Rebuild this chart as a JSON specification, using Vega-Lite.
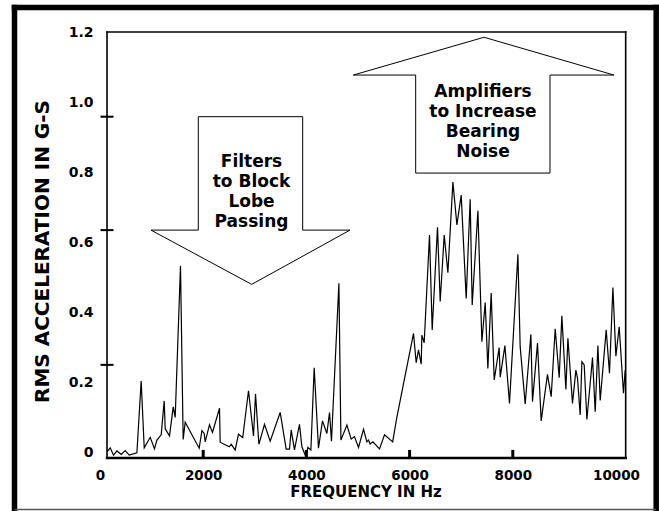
{
  "$schema": "https://vega.github.io/schema/vega-lite/v6.json",
  "width": 526,
  "height": 426,
  "autosize": {"type": "none"},
  "padding": {"left": 100, "top": 32, "right": 33, "bottom": 53},
  "background": "white",
  "config": {
    "view": {"stroke": null},
    "font": "DejaVu Sans"
  },
  "datasets": {
    "signal": [
      {"x": 140, "y": 0.001}, {"x": 198, "y": 0.012}, {"x": 262, "y": -0.009}, {"x": 328, "y": 0.003},
      {"x": 411, "y": -0.007}, {"x": 488, "y": 0.004}, {"x": 566, "y": -0.009}, {"x": 715, "y": -0.002},
      {"x": 798, "y": 0.203}, {"x": 857, "y": 0.012}, {"x": 973, "y": 0.042}, {"x": 1056, "y": 0.009},
      {"x": 1103, "y": 0.034}, {"x": 1186, "y": 0.049}, {"x": 1244, "y": 0.146}, {"x": 1264, "y": 0.066},
      {"x": 1347, "y": 0.046}, {"x": 1419, "y": 0.129}, {"x": 1457, "y": 0.099}, {"x": 1560, "y": 0.532},
      {"x": 1612, "y": 0.036}, {"x": 1651, "y": 0.085}, {"x": 1922, "y": 0.011}, {"x": 1975, "y": 0.061},
      {"x": 2019, "y": 0.053}, {"x": 2039, "y": 0.029}, {"x": 2122, "y": 0.078}, {"x": 2180, "y": 0.056},
      {"x": 2316, "y": 0.125}, {"x": 2329, "y": 0.028}, {"x": 2504, "y": 0.015}, {"x": 2543, "y": 0.022},
      {"x": 2620, "y": 0.006}, {"x": 2684, "y": 0.051}, {"x": 2766, "y": 0.041}, {"x": 2878, "y": 0.175},
      {"x": 2975, "y": 0.046}, {"x": 3014, "y": 0.166}, {"x": 3079, "y": 0.022}, {"x": 3188, "y": 0.079},
      {"x": 3298, "y": 0.031}, {"x": 3492, "y": 0.113}, {"x": 3608, "y": 0.008}, {"x": 3672, "y": 0.008},
      {"x": 3705, "y": 0.063}, {"x": 3769, "y": 0.006}, {"x": 3866, "y": 0.079}, {"x": 3913, "y": 0.015},
      {"x": 3977, "y": -0.009}, {"x": 3996, "y": -0.013}, {"x": 4029, "y": 0.013}, {"x": 4087, "y": 0.006},
      {"x": 4151, "y": 0.241}, {"x": 4234, "y": 0.011}, {"x": 4312, "y": 0.089}, {"x": 4397, "y": 0.053},
      {"x": 4448, "y": 0.113}, {"x": 4486, "y": 0.031}, {"x": 4630, "y": 0.482}, {"x": 4669, "y": 0.034},
      {"x": 4785, "y": 0.077}, {"x": 4868, "y": 0.037}, {"x": 4932, "y": 0.044}, {"x": 5010, "y": 0.013},
      {"x": 5107, "y": 0.065}, {"x": 5172, "y": 0.029}, {"x": 5203, "y": 0.034}, {"x": 5236, "y": 0.023},
      {"x": 5289, "y": 0.029}, {"x": 5417, "y": 0.009}, {"x": 5514, "y": 0.049}, {"x": 5672, "y": 0.029},
      {"x": 5750, "y": 0.097}, {"x": 6076, "y": 0.339}, {"x": 6128, "y": 0.255}, {"x": 6172, "y": 0.292},
      {"x": 6225, "y": 0.251}, {"x": 6238, "y": 0.334}, {"x": 6283, "y": 0.312}, {"x": 6386, "y": 0.62},
      {"x": 6438, "y": 0.349}, {"x": 6541, "y": 0.642}, {"x": 6593, "y": 0.43}, {"x": 6671, "y": 0.62},
      {"x": 6742, "y": 0.512}, {"x": 6839, "y": 0.771}, {"x": 6917, "y": 0.649}, {"x": 7000, "y": 0.734},
      {"x": 7097, "y": 0.439}, {"x": 7174, "y": 0.722}, {"x": 7213, "y": 0.42}, {"x": 7324, "y": 0.689},
      {"x": 7401, "y": 0.315}, {"x": 7465, "y": 0.427}, {"x": 7517, "y": 0.239}, {"x": 7581, "y": 0.454},
      {"x": 7640, "y": 0.206}, {"x": 7736, "y": 0.298}, {"x": 7756, "y": 0.214}, {"x": 7847, "y": 0.304},
      {"x": 7936, "y": 0.139}, {"x": 8099, "y": 0.565}, {"x": 8143, "y": 0.301}, {"x": 8240, "y": 0.137},
      {"x": 8351, "y": 0.336}, {"x": 8382, "y": 0.144}, {"x": 8479, "y": 0.311}, {"x": 8550, "y": 0.089},
      {"x": 8672, "y": 0.222}, {"x": 8744, "y": 0.158}, {"x": 8822, "y": 0.352}, {"x": 8899, "y": 0.212},
      {"x": 8951, "y": 0.389}, {"x": 9029, "y": 0.179}, {"x": 9068, "y": 0.325}, {"x": 9157, "y": 0.139},
      {"x": 9223, "y": 0.234}, {"x": 9254, "y": 0.211}, {"x": 9306, "y": 0.106}, {"x": 9339, "y": 0.258},
      {"x": 9384, "y": 0.249}, {"x": 9436, "y": 0.093}, {"x": 9545, "y": 0.27}, {"x": 9597, "y": 0.115},
      {"x": 9649, "y": 0.304}, {"x": 9694, "y": 0.147}, {"x": 9810, "y": 0.349}, {"x": 9874, "y": 0.225},
      {"x": 9940, "y": 0.47}, {"x": 9998, "y": 0.274}, {"x": 10062, "y": 0.358}, {"x": 10145, "y": 0.168},
      {"x": 10178, "y": 0.234}
    ],
    "arrows": [
      {"shape": "down", "i": 0, "x": 1905, "y": 0.958},
      {"shape": "down", "i": 1, "x": 3928, "y": 0.958},
      {"shape": "down", "i": 2, "x": 3928, "y": 0.634},
      {"shape": "down", "i": 3, "x": 4845, "y": 0.634},
      {"shape": "down", "i": 4, "x": 2940, "y": 0.479},
      {"shape": "down", "i": 5, "x": 988, "y": 0.634},
      {"shape": "down", "i": 6, "x": 1905, "y": 0.634},
      {"shape": "down", "i": 7, "x": 1905, "y": 0.958},
      {"shape": "up", "i": 0, "x": 7442, "y": 1.185},
      {"shape": "up", "i": 1, "x": 9961, "y": 1.077},
      {"shape": "up", "i": 2, "x": 8721, "y": 1.077},
      {"shape": "up", "i": 3, "x": 8721, "y": 0.797},
      {"shape": "up", "i": 4, "x": 6118, "y": 0.797},
      {"shape": "up", "i": 5, "x": 6118, "y": 1.077},
      {"shape": "up", "i": 6, "x": 4909, "y": 1.077},
      {"shape": "up", "i": 7, "x": 7442, "y": 1.185}
    ],
    "notes": [
      {"label": "Filters\nto Block\nLobe\nPassing", "x": 2936, "y": 0.8137},
      {"label": "Amplifiers\nto Increase\nBearing\nNoise", "x": 7422, "y": 1.0137}
    ],
    "frame": [
      {"x": 136, "x2": 136, "y": -0.0171, "y2": 1.2},
      {"x": 136, "x2": 10188, "y": 1.2, "y2": 1.2},
      {"x": 10188, "x2": 10188, "y": -0.0171, "y2": 1.2}
    ],
    "frameBottom": [
      {"x": 136, "x2": 10188, "y": -0.0171, "y2": -0.0171}
    ],
    "border": [
      {"x": -1657, "x2": 10779, "y": 1.27, "y2": 1.27},
      {"x": -1657, "x2": -1657, "y": -0.1643, "y2": 1.27},
      {"x": 10779, "x2": 10779, "y": -0.1643, "y2": 1.27}
    ],
    "borderBottom": [
      {"x": -1657, "x2": 10779, "y": -0.1643, "y2": -0.1643}
    ],
    "yticks": [{"y": 0.958}, {"y": 0.634}, {"y": 0.249}],
    "xticks": [{"x": 2000}, {"x": 4000}, {"x": 6000}, {"x": 8000}]
  },
  "layer": [
    {
      "data": {"name": "signal"},
      "mark": {"type": "line", "color": "black", "strokeWidth": 1.2, "strokeJoin": "miter"},
      "encoding": {
        "x": {
          "field": "x", "type": "quantitative",
          "scale": {"domain": [0, 10194], "nice": false, "zero": false},
          "axis": {
            "title": "FREQUENCY IN Hz",
            "values": [0, 2000, 4000, 6000, 8000, 10000],
            "format": "d",
            "grid": false, "domain": false, "ticks": false, "tickSize": 0,
            "labelFont": "DejaVu Sans", "labelFontWeight": "bold", "labelFontSize": 13.5,
            "labelColor": "black", "labelPadding": 21.5, "labelBaseline": "alphabetic",
            "labelFlush": false, "labelOverlap": false,
            "titleFont": "DejaVu Sans", "titleFontWeight": "bold", "titleFontSize": 15,
            "titleColor": "black", "titleX": 265.5, "titleY": 38,
            "titleAlign": "center", "titleBaseline": "alphabetic", "titleAnchor": null
          }
        },
        "y": {
          "field": "y", "type": "quantitative",
          "scale": {"domain": [-0.0171, 1.2], "nice": false, "zero": false},
          "axis": {
            "title": "RMS ACCELERATION IN G-S",
            "values": [0, 0.2, 0.4, 0.6, 0.8, 1, 1.2],
            "labelExpr": "datum.value == 0 ? '0' : format(datum.value, '.1f')",
            "grid": false, "domain": false, "ticks": false, "tickSize": 0,
            "labelFont": "DejaVu Sans", "labelFontWeight": "bold", "labelFontSize": 14,
            "labelColor": "black", "labelPadding": 7, "labelBaseline": "middle",
            "labelFlush": false, "labelOverlap": false,
            "titleFont": "DejaVu Sans", "titleFontWeight": "bold", "titleFontSize": 20,
            "titleColor": "black", "titleX": -57.3, "titleY": 219, "titleAngle": 270,
            "titleAlign": "center", "titleBaseline": "middle", "titleAnchor": null
          }
        }
      }
    },
    {
      "data": {"name": "arrows"},
      "mark": {"type": "line", "color": "black", "strokeWidth": 1, "strokeJoin": "miter"},
      "encoding": {
        "x": {"field": "x", "type": "quantitative", "scale": {"domain": [0, 10194], "nice": false, "zero": false}},
        "y": {"field": "y", "type": "quantitative", "scale": {"domain": [-0.0171, 1.2], "nice": false, "zero": false}},
        "detail": {"field": "shape"},
        "order": {"field": "i", "type": "quantitative"}
      }
    },
    {
      "data": {"name": "notes"},
      "mark": {
        "type": "text", "color": "black", "font": "DejaVu Sans", "fontWeight": "bold",
        "fontSize": 17, "lineBreak": "\n", "lineHeight": 20, "align": "center", "baseline": "alphabetic"
      },
      "encoding": {
        "x": {"field": "x", "type": "quantitative", "scale": {"domain": [0, 10194], "nice": false, "zero": false}},
        "y": {"field": "y", "type": "quantitative", "scale": {"domain": [-0.0171, 1.2], "nice": false, "zero": false}},
        "text": {"field": "label"}
      }
    },
    {
      "data": {"name": "frame"},
      "mark": {"type": "rule", "color": "black", "strokeWidth": 1.6, "strokeCap": "square"},
      "encoding": {
        "x": {"field": "x", "type": "quantitative", "scale": {"domain": [0, 10194], "nice": false, "zero": false}},
        "x2": {"field": "x2"},
        "y": {"field": "y", "type": "quantitative", "scale": {"domain": [-0.0171, 1.2], "nice": false, "zero": false}},
        "y2": {"field": "y2"}
      }
    },
    {
      "data": {"name": "frameBottom"},
      "mark": {"type": "rule", "color": "black", "strokeWidth": 2.5, "strokeCap": "square"},
      "encoding": {
        "x": {"field": "x", "type": "quantitative", "scale": {"domain": [0, 10194], "nice": false, "zero": false}},
        "x2": {"field": "x2"},
        "y": {"field": "y", "type": "quantitative", "scale": {"domain": [-0.0171, 1.2], "nice": false, "zero": false}},
        "y2": {"field": "y2"}
      }
    },
    {
      "data": {"name": "border"},
      "mark": {"type": "rule", "color": "black", "strokeWidth": 5.5, "strokeCap": "square"},
      "encoding": {
        "x": {"field": "x", "type": "quantitative", "scale": {"domain": [0, 10194], "nice": false, "zero": false}},
        "x2": {"field": "x2"},
        "y": {"field": "y", "type": "quantitative", "scale": {"domain": [-0.0171, 1.2], "nice": false, "zero": false}},
        "y2": {"field": "y2"}
      }
    },
    {
      "data": {"name": "borderBottom"},
      "mark": {"type": "rule", "color": "#555555", "strokeWidth": 1.5},
      "encoding": {
        "x": {"field": "x", "type": "quantitative", "scale": {"domain": [0, 10194], "nice": false, "zero": false}},
        "x2": {"field": "x2"},
        "y": {"field": "y", "type": "quantitative", "scale": {"domain": [-0.0171, 1.2], "nice": false, "zero": false}},
        "y2": {"field": "y2"}
      }
    },
    {
      "data": {"name": "yticks"},
      "mark": {"type": "tick", "orient": "horizontal", "color": "black", "opacity": 1, "size": 13, "thickness": 2},
      "encoding": {
        "x": {"datum": 136, "type": "quantitative", "scale": {"domain": [0, 10194], "nice": false, "zero": false}},
        "y": {"field": "y", "type": "quantitative", "scale": {"domain": [-0.0171, 1.2], "nice": false, "zero": false}}
      }
    },
    {
      "data": {"name": "xticks"},
      "mark": {"type": "rule", "color": "black", "strokeWidth": 3},
      "encoding": {
        "x": {"field": "x", "type": "quantitative", "scale": {"domain": [0, 10194], "nice": false, "zero": false}},
        "y": {"datum": -0.0171, "type": "quantitative", "scale": {"domain": [-0.0171, 1.2], "nice": false, "zero": false}},
        "y2": {"datum": 0.006}
      }
    }
  ]
}
